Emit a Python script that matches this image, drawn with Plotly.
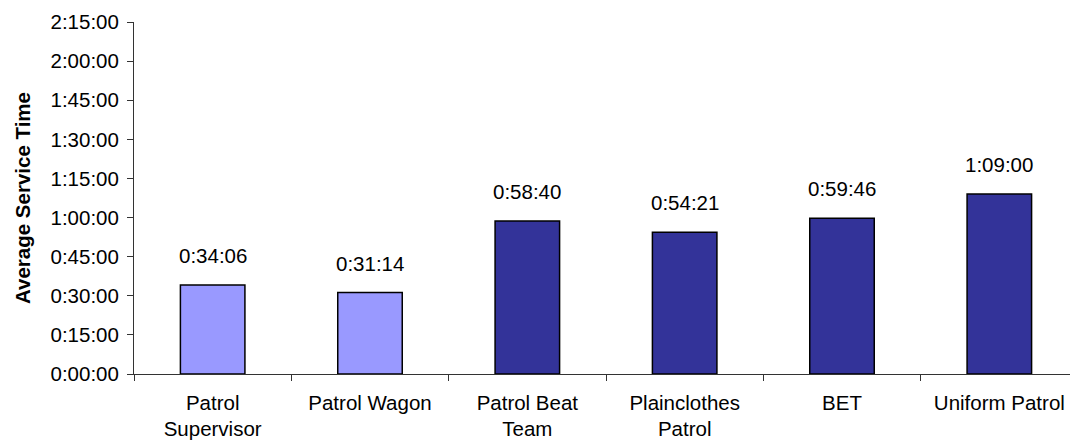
import plotly.graph_objects as go

categories = ['Patrol<br>Supervisor', 'Patrol Wagon', 'Patrol Beat<br>Team',
              'Plainclothes<br>Patrol', 'BET', 'Uniform Patrol']
# average service time in seconds
service_seconds = [34 * 60 + 6, 31 * 60 + 14, 58 * 60 + 40, 54 * 60 + 21, 59 * 60 + 46, 69 * 60]
value_labels = ['0:34:06', '0:31:14', '0:58:40', '0:54:21', '0:59:46', '1:09:00']
bar_colors = ['#9999FF', '#9999FF', '#333399', '#333399', '#333399', '#333399']

tick_vals = [i * 900 for i in range(10)]
tick_text = ['0:00:00', '0:15:00', '0:30:00', '0:45:00', '1:00:00', '1:15:00',
             '1:30:00', '1:45:00', '2:00:00', '2:15:00']

font = dict(family='Liberation Sans, Arial, sans-serif', size=20.5, color='black')

fig = go.Figure(go.Bar(
    x=categories, y=service_seconds, width=0.41,
    marker=dict(color=bar_colors, line=dict(color='black', width=1.5)),
    hoverinfo='skip',
))

for cat, val, lab in zip(categories, service_seconds, value_labels):
    fig.add_annotation(x=cat, y=val, text=lab, showarrow=False, yanchor='bottom',
                       yshift=16, font=font)

# the page body adds an 8px margin, so the figure is sized to fit the window
fig.update_layout(
    width=1070, height=438,
    margin=dict(l=126, r=0, t=14, b=72),
    plot_bgcolor='white', paper_bgcolor='white',
    font=font, showlegend=False,
    xaxis=dict(showline=True, linecolor='#333', linewidth=1, ticks='outside',
               tickson='boundaries', ticklen=6, tickcolor='#333', automargin=False,
               range=[-0.5, 5.5], tickfont=font, ticklabelstandoff=10),
    yaxis=dict(showline=True, linecolor='#333', linewidth=1, ticks='outside',
               ticklen=6, tickcolor='#333', range=[0, 8100], automargin=False,
               tickvals=tick_vals, ticktext=tick_text, showgrid=False,
               zeroline=False, tickfont=font, ticklabelstandoff=4,
               title=dict(text='<b>Average Service Time</b>', standoff=14,
                          font=dict(family='Liberation Sans, Arial, sans-serif',
                                    size=20.5, color='black'))),
)

fig.write_html('out.html')
